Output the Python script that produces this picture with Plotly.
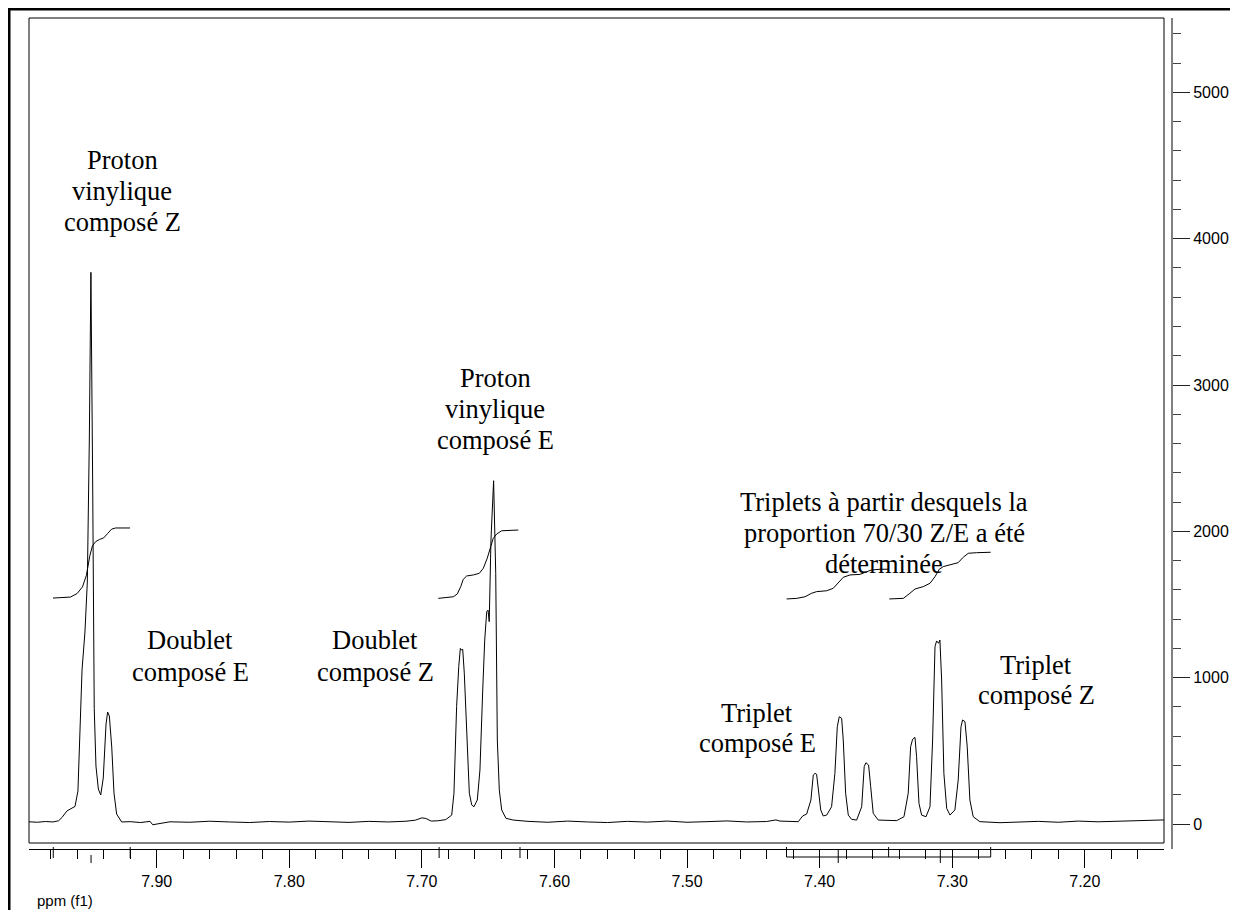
import plotly.graph_objects as go

# ---------------- data ----------------
spectrum_ppm = [
    7.9963, 7.9900, 7.9840, 7.9782, 7.9740, 7.9714, 7.9676, 7.9616, 7.9594, 7.9578,
    7.9563, 7.9541, 7.9523, 7.9508, 7.9496, 7.9483, 7.9471, 7.9458, 7.9440, 7.9422,
    7.9403, 7.9382, 7.9370, 7.9357, 7.9339, 7.9322, 7.9302, 7.9264, 7.9200, 7.9120,
    7.9050, 7.9030, 7.8900, 7.8750, 7.8600, 7.8450, 7.8300, 7.8150, 7.8000, 7.7850,
    7.7700, 7.7550, 7.7400, 7.7250, 7.7120, 7.7050, 7.7000, 7.6970, 7.6930, 7.6880,
    7.6820, 7.6775, 7.6758, 7.6738, 7.6722, 7.6710, 7.6700, 7.6692, 7.6680, 7.6662,
    7.6642, 7.6624, 7.6607, 7.6582, 7.6562, 7.6541, 7.6526, 7.6511, 7.6501, 7.6492,
    7.6479, 7.6459, 7.6443, 7.6431, 7.6416, 7.6398, 7.6366, 7.6311, 7.6200, 7.6050,
    7.5900, 7.5750, 7.5600, 7.5450, 7.5300, 7.5150, 7.5000, 7.4850, 7.4700, 7.4550,
    7.4400, 7.4330, 7.4299, 7.4161, 7.4128, 7.4098, 7.4066, 7.4048, 7.4035, 7.4023,
    7.4011, 7.3992, 7.3973, 7.3947, 7.3910, 7.3885, 7.3867, 7.3852, 7.3834, 7.3822,
    7.3804, 7.3784, 7.3759, 7.3721, 7.3683, 7.3664, 7.3651, 7.3631, 7.3615, 7.3596,
    7.3558, 7.3495, 7.3419, 7.3364, 7.3332, 7.3314, 7.3299, 7.3281, 7.3269, 7.3251,
    7.3231, 7.3198, 7.3168, 7.3148, 7.3130, 7.3118, 7.3103, 7.3093, 7.3080, 7.3063,
    7.3042, 7.3017, 7.2980, 7.2955, 7.2934, 7.2922, 7.2904, 7.2887, 7.2867, 7.2842,
    7.2792, 7.2640, 7.2500, 7.2350, 7.2200, 7.2050, 7.1900, 7.1750, 7.1600, 7.1480,
    7.1400,
]
spectrum_intensity = [
    15, 12, 17, 14, 22, 45, 90, 120, 225, 656,
    1053, 1312, 1654, 2631, 3770, 2365, 789, 396, 239, 198,
    314, 683, 765, 738, 526, 212, 68, 14, 16, 10,
    18, -5, 15, 12, 19, 14, 10, 17, 13, 20,
    15, 11, 18, 14, 19, 26, 42, 38, 20, 22,
    30, 61, 210, 802, 1075, 1200, 1189, 1194, 1030, 574,
    210, 130, 118, 164, 369, 916, 1257, 1451, 1462, 1383,
    1941, 2346, 1713, 574, 232, 96, 39, 27, 18, 12,
    20, 14, 10, 18, 13, 20, 12, 16, 21, 14,
    17, 28, 20, 16, 55, 68, 164, 335, 346, 340,
    255, 96, 55, 61, 118, 346, 665, 733, 722, 574,
    210, 61, 32, 27, 118, 392, 419, 403, 255, 73,
    27, 23, 23, 50, 210, 528, 579, 592, 460, 141,
    61, 50, 118, 574, 1212, 1251, 1235, 1257, 984, 346,
    107, 61, 96, 301, 665, 711, 699, 528, 164, 50,
    16, 9, 14, 18, 12, 20, 15, 18, 22, 25,
    28,
]

integral1_ppm = [7.9782, 7.9650, 7.9600, 7.9560, 7.9530, 7.9505, 7.9485, 7.9460, 7.9430,
                 7.9400, 7.9370, 7.9340, 7.9310, 7.9201]
integral1_val = [1544, 1551, 1575, 1620, 1700, 1830, 1900, 1930, 1945,
                 1955, 1985, 2015, 2023, 2023]
integral2_ppm = [7.6876, 7.6763, 7.6733, 7.6707, 7.6688, 7.6662, 7.6612, 7.6567, 7.6537,
                 7.6507, 7.6481, 7.6462, 7.6436, 7.6398, 7.6273]
integral2_val = [1542, 1553, 1572, 1622, 1672, 1695, 1702, 1713, 1747,
                 1816, 1895, 1952, 1982, 2004, 2009]
integral3_ppm = [7.4249, 7.4173, 7.4111, 7.4060, 7.4023, 7.3947, 7.3897, 7.3860, 7.3822,
                 7.3771, 7.3696, 7.3646, 7.3608, 7.3545, 7.3483]
integral3_val = [1538, 1542, 1553, 1577, 1588, 1594, 1611, 1649, 1686,
                 1702, 1706, 1724, 1736, 1741, 1741]
integral4_ppm = [7.3475, 7.3369, 7.3319, 7.3281, 7.3219, 7.3168, 7.3130, 7.3098, 7.3068,
                 7.3017, 7.2955, 7.2917, 7.2879, 7.2816, 7.2710]
integral4_val = [1538, 1542, 1577, 1606, 1622, 1645, 1690, 1741, 1759,
                 1770, 1786, 1823, 1850, 1854, 1857]

integral_edge_ppm = [7.978, 7.920, 7.687, 7.626]
peak_mark_ppm = [7.9495, 7.386, 7.309]
bracket_ppm = [7.425, 7.348, 7.271]

x_range = [7.9963, 7.1403]
y_range = [-170.8, 5508]

# text labels: (lines, center x px, center y px of each line) in page pixels
labels = [
    (["Proton", "vinylique", "composé Z"], 122, [160, 191, 222]),
    (["Doublet", "composé E"], 190, [640, 672]),
    (["Doublet", "composé Z"], 375, [640, 672]),
    (["Proton", "vinylique", "composé E"], 495, [378, 409, 440]),
    (["Triplets à partir desquels la", "proportion 70/30 Z/E a été", "déterminée"], 884, [502, 533, 564]),
    (["Triplet", "composé E"], 757, [713, 743]),
    (["Triplet", "composé Z"], 1036, [665, 695]),
]

# ---------------- layout geometry ----------------
# the page body has an 8 px margin; the figure is sized so it fills the window exactly
OFF = 8
W, H = 1238 - OFF, 910 - OFF
PLOT_LEFT, PLOT_TOP, PLOT_RIGHT, PLOT_BOTTOM = 29, 18, 1172, 849   # page pixels
L, T = PLOT_LEFT - OFF, PLOT_TOP - OFF
R, B = W - (PLOT_RIGHT - OFF), H - (PLOT_BOTTOM - OFF)
PW, PH = PLOT_RIGHT - PLOT_LEFT, PLOT_BOTTOM - PLOT_TOP
XDOM_END = (1164 - PLOT_LEFT) / PW


def px2paper_x(px):
    return (px - PLOT_LEFT) / PW


def py2paper_y(py):
    return (PLOT_BOTTOM - py) / PH


SERIF = "Liberation Serif, Times New Roman, serif"
SANS = "Liberation Sans, Arial, sans-serif"

fig = go.Figure()
fig.add_trace(go.Scatter(x=spectrum_ppm, y=spectrum_intensity, mode="lines",
                         line=dict(color="black", width=1), showlegend=False,
                         hoverinfo="skip"))
for xs, ys in [(integral1_ppm, integral1_val), (integral2_ppm, integral2_val),
               (integral3_ppm, integral3_val), (integral4_ppm, integral4_val)]:
    fig.add_trace(go.Scatter(x=xs, y=ys, mode="lines", line=dict(color="black", width=1),
                             showlegend=False, hoverinfo="skip"))

annotations = []
for lines, cx, cys in labels:
    for txt, cy in zip(lines, cys):
        annotations.append(dict(text=txt, x=px2paper_x(cx), y=py2paper_y(cy), xref="paper",
                                yref="paper", xanchor="center", yanchor="middle",
                                showarrow=False, font=dict(family=SERIF, size=26.5, color="black")))
annotations.append(dict(text="ppm (f1)", x=px2paper_x(35), y=py2paper_y(900), xref="paper",
                        yref="paper", xanchor="left", yanchor="middle", showarrow=False,
                        font=dict(family=SANS, size=15, color="black")))

shapes = []
# plot box
shapes.append(dict(type="rect", xref="paper", yref="paper", x0=0, x1=XDOM_END,
                   y0=py2paper_y(843), y1=1, line=dict(color="black", width=1)))
# outer page border (left & top)
shapes.append(dict(type="line", xref="paper", yref="paper", x0=px2paper_x(9), x1=px2paper_x(9),
                   y0=py2paper_y(915), y1=py2paper_y(7.5), line=dict(color="black", width=3)))
shapes.append(dict(type="line", xref="paper", yref="paper", x0=px2paper_x(7.5), x1=px2paper_x(1245),
                   y0=py2paper_y(9), y1=py2paper_y(9), line=dict(color="black", width=3)))
# integration region edges
for p in integral_edge_ppm:
    shapes.append(dict(type="line", xref="x", yref="paper", ysizemode="pixel", yanchor=0,
                       x0=p, x1=p, y0=2, y1=-9, line=dict(color="black", width=1)))
# peak marks
for i, p in enumerate(peak_mark_ppm):
    y0 = -6 if i == 0 else 0
    shapes.append(dict(type="line", xref="x", yref="paper", ysizemode="pixel", yanchor=0,
                       x0=p, x1=p, y0=y0, y1=-14, line=dict(color="black", width=1)))
# integration bracket
b0, bm, b1 = bracket_ppm
shapes.append(dict(type="path", xref="x", yref="paper", ysizemode="pixel", yanchor=0,
                   path=f"M{b0},2 L{b0},-8 L{b1},-8 L{b1},2", line=dict(color="black", width=1)))
shapes.append(dict(type="line", xref="x", yref="paper", ysizemode="pixel", yanchor=0,
                   x0=bm, x1=bm, y0=2, y1=-8, line=dict(color="black", width=1)))

fig.update_layout(
    width=W, height=H,
    margin=dict(l=L, r=R, t=T, b=B, pad=0),
    paper_bgcolor="white", plot_bgcolor="white",
    showlegend=False,
    xaxis=dict(domain=[0, XDOM_END], range=x_range, showgrid=False, zeroline=False,
               showline=True, linecolor="black", linewidth=1,
               ticks="outside", ticklen=18, tickwidth=1, tickcolor="black",
               tick0=7.0, dtick=0.1, tickformat=".2f",
               tickfont=dict(family=SANS, size=16, color="black"),
               minor=dict(dtick=0.02, ticks="outside", ticklen=9, tickwidth=1, tickcolor="black"),
               anchor="y"),
    yaxis=dict(range=y_range, side="right", anchor="free", position=1.0,
               showgrid=False, zeroline=False, showline=True, linecolor="#808080", linewidth=2,
               ticks="outside", ticklen=17, tickwidth=1, tickcolor="#222",
               tick0=0, dtick=1000,
               tickfont=dict(family=SANS, size=16, color="black"),
               minor=dict(dtick=200, ticks="outside", ticklen=8, tickwidth=1, tickcolor="#444")),
    annotations=annotations,
    shapes=shapes,
)

fig.write_html("out.html")
